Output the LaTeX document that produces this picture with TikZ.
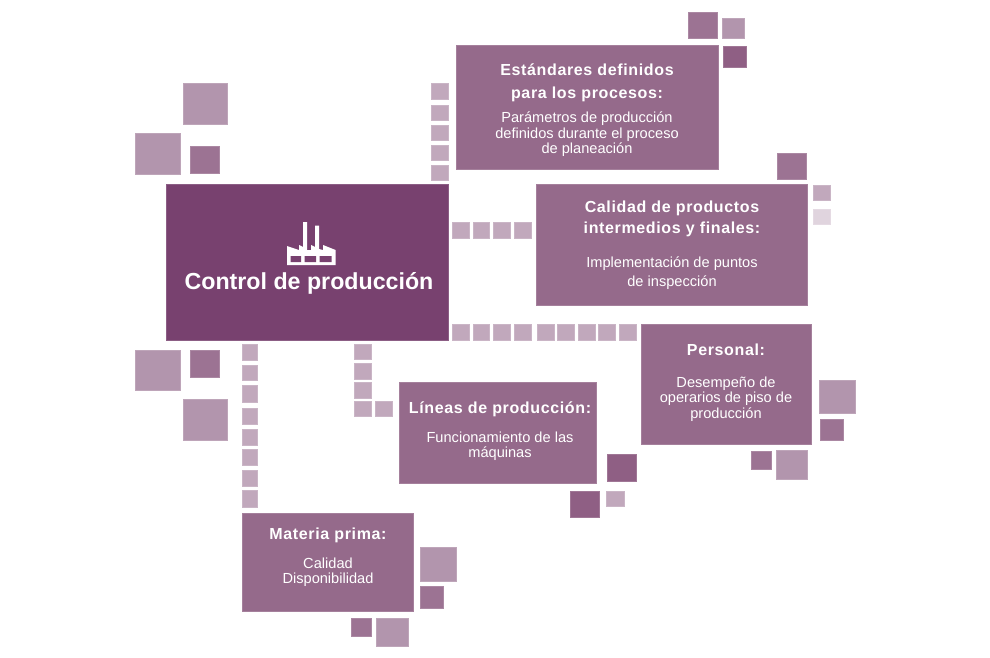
\documentclass[tikz,border=0pt]{standalone}
\usepackage{fontspec}
\setmainfont{Liberation Sans}
\definecolor{mainbox}{HTML}{78416F}
\definecolor{subbox}{HTML}{956A8B}
\definecolor{darkblok}{HTML}{8F5F84}
\definecolor{midblok}{HTML}{9C7393}
\definecolor{lightblok}{HTML}{B295AD}
\definecolor{paleblok}{HTML}{C1A8BC}
\definecolor{fadeblok}{HTML}{E0D4DE}
\tikzset{
  blok/.style={anchor=north west,inner sep=0pt,outer sep=0pt,draw=#1!85!white,fill=#1,line width=.6pt},
  heading/.style={font=\fontsize{16}{21}\selectfont\bfseries\addfontfeature{LetterSpace=4},text=white,align=center,inner sep=0pt},
  bodytext/.style={font=\fontsize{14.6}{15.5}\selectfont,text=white,align=center,inner sep=0pt}
}
\begin{document}
\begin{tikzpicture}[x=1pt,y=-1pt]
  \useasboundingbox (0,0) rectangle (990,658);
  % main and sub boxes
  \node[blok=mainbox,minimum width=282pt,minimum height=156pt] (control) at (166.5,184.5) {};
  \node[blok=subbox,minimum width=262pt,minimum height=124pt] (estandares) at (456.5,45.5) {};
  \node[blok=subbox,minimum width=271pt,minimum height=121pt] (calidad) at (536.5,184.5) {};
  \node[blok=subbox,minimum width=170pt,minimum height=120pt] (personal) at (641.5,324.5) {};
  \node[blok=subbox,minimum width=197pt,minimum height=101pt] (lineas) at (399.5,382.5) {};
  \node[blok=subbox,minimum width=171pt,minimum height=98pt] (materia) at (242.5,513.5) {};
  % small squares
  \foreach \x/\y/\w/\h [count=\i] in {431/83/17/16,431/105/17/15,431/125/17/15,431/145/17/15,431/165/17/15,
      452/222/17/16,473/222/16/16,493/222/17/16,514/222/17/16,
      452/324/17/16,473/324/16/16,493/324/17/16,514/324/17/16,537/324/17/16,557/324/17/16,578/324/17/16,598/324/17/16,619/324/17/16,
      354/344/17/15,354/363/17/16,354/382/17/16,354/401/17/15,375/401/17/15,
      242/344/15/16,242/365/15/15,242/385/15/17,242/408/15/16,242/429/15/16,242/449/15/16,242/470/15/16,242/490/15/17,
      813/185/17/15,606/491/18/15}
    \node[blok=paleblok,minimum width=\w pt,minimum height=\h pt] (pale\i) at (\x+.5,\y+.5) {};
  \node[blok=fadeblok,minimum width=17pt,minimum height=15pt] (fade1) at (813.5,209.5) {};
  \foreach \x/\y/\w/\h [count=\i] in {722/18/22/20,183/83/44/41,135/133/45/41,135/350/45/40,183/399/44/41,
      819/380/36/33,776/450/31/29,420/547/36/34,376/618/32/28}
    \node[blok=lightblok,minimum width=\w pt,minimum height=\h pt] (light\i) at (\x+.5,\y+.5) {};
  \foreach \x/\y/\w/\h [count=\i] in {688/12/29/26,777/153/29/26,190/146/29/27,190/350/29/27,
      820/419/23/21,751/451/20/18,420/586/23/22,351/618/20/18}
    \node[blok=midblok,minimum width=\w pt,minimum height=\h pt] (mid\i) at (\x+.5,\y+.5) {};
  \foreach \x/\y/\w/\h [count=\i] in {723/46/23/21,607/454/29/27,570/491/29/26}
    \node[blok=darkblok,minimum width=\w pt,minimum height=\h pt] (dark\i) at (\x+.5,\y+.5) {};
  % factory icon
  \fill[white] (287,246) -- (299,250) -- (299,245) -- (303,247) -- (303,222) -- (307,222) -- (307,250)
    -- (311,250) -- (311,245) -- (315,247) -- (315,225.5) -- (319,225.5) -- (319,249) -- (323,250) -- (323,245)
    -- (335.5,250) -- (335.5,265) -- (287,265) -- cycle;
  \fill[mainbox] (290.5,256) rectangle (301,262) (304.5,256) rectangle (316,262) (319.5,256) rectangle (331.5,262);
  % texts
  \node[font=\fontsize{23.2}{26}\selectfont\bfseries,text=white,inner sep=0pt] (controltext) at (309,283.5) {Control de producción};
  \node[heading] (head1a) at (587,69.5) {Estándares definidos};
  \node[heading] (head1b) at (587,94.5) {para los procesos:};
  \node[bodytext] (body1) at (587,134.5) {Parámetros de producción\\definidos durante el proceso\\de planeación};
  \node[heading] (head2) at (672,219) {Calidad de productos\\intermedios y finales:};
  \node[bodytext,font=\fontsize{14.6}{19}\selectfont] (body2) at (672,273) {Implementación de puntos\\de inspección};
  \node[heading] (head3) at (726,349.5) {Personal:};
  \node[bodytext] (body3) at (726,399) {Desempeño de\\operarios de piso de\\producción};
  \node[heading] (head4) at (500,409.5) {Líneas de producción:};
  \node[bodytext] (body4) at (500,446) {Funcionamiento de las\\máquinas};
  \node[heading] (head5) at (328,535) {Materia prima:};
  \node[bodytext] (body5) at (328,572) {Calidad\\Disponibilidad};
\end{tikzpicture}
\end{document}
